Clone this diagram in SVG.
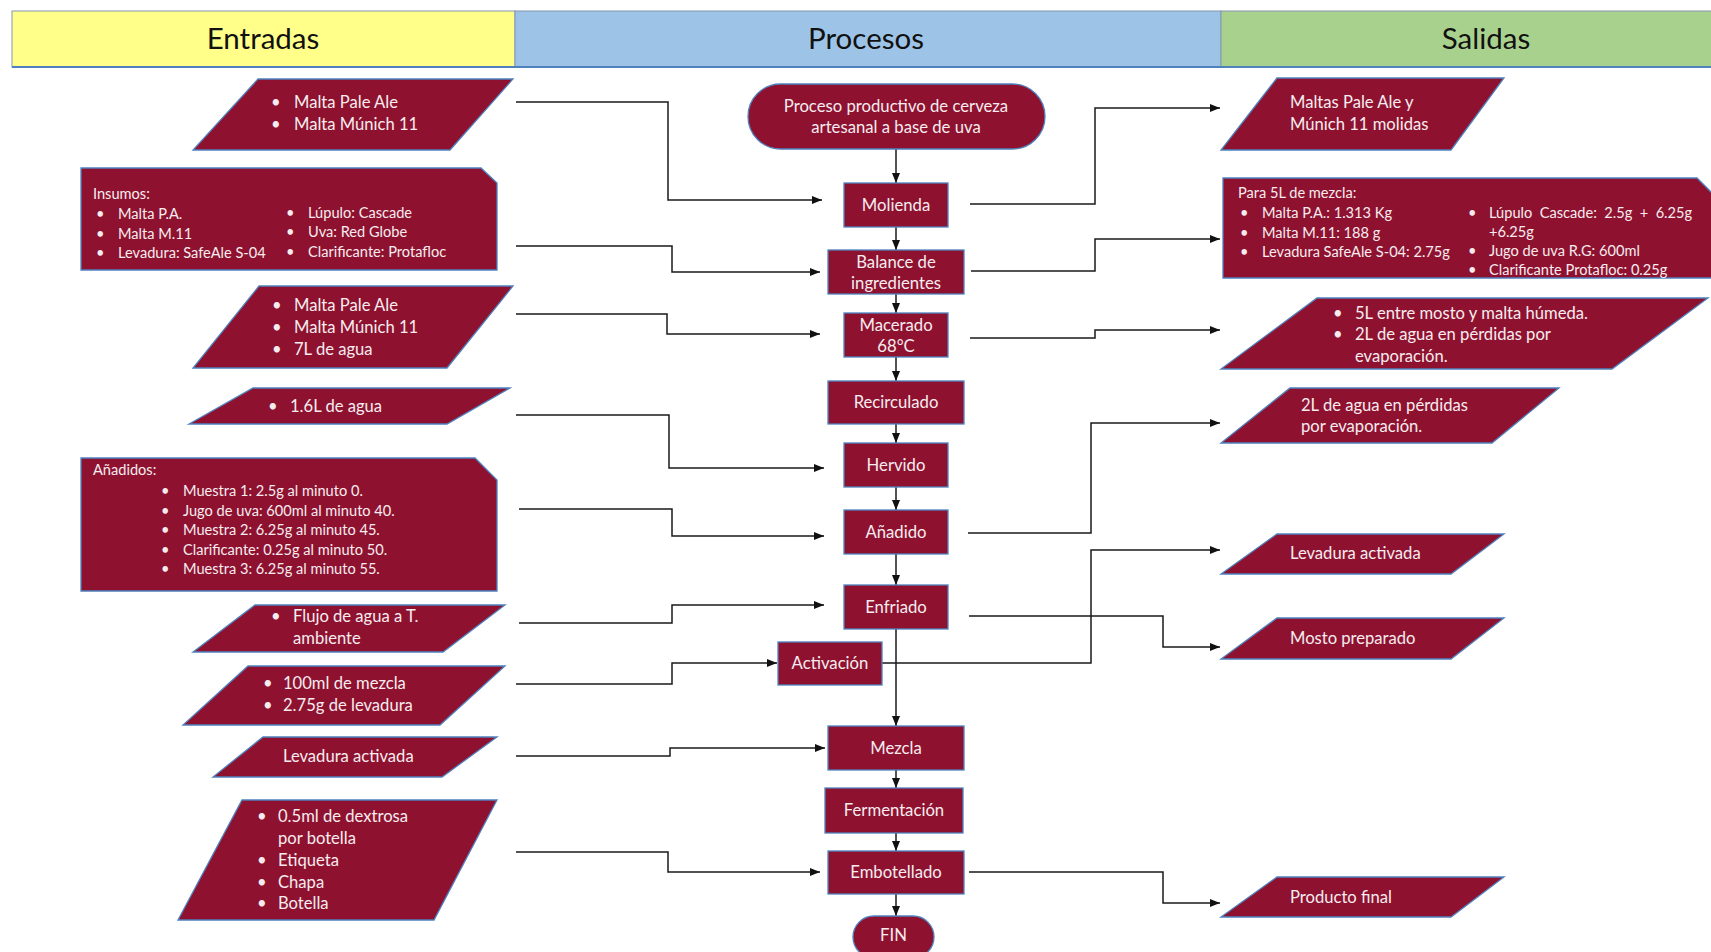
<svg xmlns="http://www.w3.org/2000/svg" width="1711" height="952" viewBox="0 0 1711 952">
  <defs>
    <marker id="arrow" viewBox="0 0 10 8" refX="10" refY="4" markerWidth="10" markerHeight="8" markerUnits="userSpaceOnUse" orient="auto">
      <path d="M0,0 L10,4 L0,8 z" fill="#111"/>
    </marker>
    <style>
      .hdr { stroke:#8497B0; stroke-width:1; }
      .htxt { font-family: Lato, "Open Sans", sans-serif; font-size:29.5px; fill:#111; text-anchor:middle; dominant-baseline:central; }
      .box { fill:#8E1230; stroke:#4F81BD; stroke-width:1.3; }
      .t { font-family: Lato, "Open Sans", sans-serif; fill:#F6ECEF; dominant-baseline:central; transform: translateY(-0.5px); }
      .m { font-size:16.7px; text-anchor:middle; }
      .l { font-size:16.6px; }
      .s { font-size:14.6px; }
      .pre { white-space:pre; }
      .c { fill:none; stroke:#1a1a1a; stroke-width:1.5; marker-end:url(#arrow); }
    </style>
  </defs>

  <rect width="1711" height="952" fill="#FFFFFF"/>

  <!-- Column headers -->
  <g id="header">
    <rect x="12" y="11" width="503" height="56" fill="#FFFF8A" class="hdr"/>
    <rect x="515" y="11" width="706" height="56" fill="#9DC3E6" class="hdr"/>
    <rect x="1221" y="11" width="495" height="56" fill="#A9D18E" class="hdr"/>
    <line x1="12" y1="67" x2="1711" y2="67" stroke="#4F81BD" stroke-width="2"/>
    <text class="htxt" x="263" y="37">Entradas</text>
    <text class="htxt" x="866" y="37">Procesos</text>
    <text class="htxt" x="1486" y="37">Salidas</text>
  </g>

  <!-- Connectors -->
  <g id="connectors">
    <!-- main flow -->
    <path class="c" d="M896 149 V183"/>
    <path class="c" d="M896 227 V250"/>
    <path class="c" d="M896 294 V313"/>
    <path class="c" d="M896 357 V381"/>
    <path class="c" d="M896 424 V443"/>
    <path class="c" d="M896 487 V510"/>
    <path class="c" d="M896 554 V585"/>
    <path class="c" d="M896 629 V726"/>
    <path class="c" d="M896 770 V788"/>
    <path class="c" d="M896 833 V851"/>
    <path class="c" d="M896 894 V916"/>
    <!-- inputs -->
    <path class="c" d="M516 102 H668 V200 H822"/>
    <path class="c" d="M516 246 H672 V272 H820"/>
    <path class="c" d="M516 314 H667 V334 H820"/>
    <path class="c" d="M516 415 H669 V468 H824"/>
    <path class="c" d="M519 509 H672 V536 H824"/>
    <path class="c" d="M519 623 H672 V605 H824"/>
    <path class="c" d="M516 684 H672 V663 H777"/>
    <path class="c" d="M516 756 H670 V748 H825"/>
    <path class="c" d="M516 852 H668 V872 H820"/>
    <!-- outputs -->
    <path class="c" d="M970 204 H1095 V108 H1220"/>
    <path class="c" d="M971 271 H1095 V239 H1220"/>
    <path class="c" d="M970 338 H1095 V330 H1220"/>
    <path class="c" d="M968 533 H1091 V423 H1220"/>
    <path class="c" d="M882 663 H1091 V550 H1220"/>
    <path class="c" d="M969 616 H1163 V647 H1220"/>
    <path class="c" d="M969 872 H1163 V903 H1220"/>
  </g>

  <!-- Inputs -->
  <g id="in-maltas">
    <polygon class="box" points="258,79 513,79 450,150 193,150"/>
    <text class="t l" x="271" y="102">•</text><text class="t l" x="294" y="102">Malta Pale Ale</text>
    <text class="t l" x="271" y="124">•</text><text class="t l" x="294" y="124">Malta Múnich 11</text>
  </g>
  <g id="in-insumos">
    <polygon class="box" points="81,168 481,168 497,183 497,270 81,270"/>
    <text class="t s" x="93" y="194">Insumos:</text>
    <text class="t s" x="96" y="214">•</text><text class="t s" x="118" y="214">Malta P.A.</text>
    <text class="t s" x="96" y="234">•</text><text class="t s" x="118" y="234">Malta M.11</text>
    <text class="t s" x="96" y="253">•</text><text class="t s" x="118" y="253">Levadura: SafeAle S-04</text>
    <text class="t s" x="286" y="213">•</text><text class="t s" x="308" y="213">Lúpulo: Cascade</text>
    <text class="t s" x="286" y="232">•</text><text class="t s" x="308" y="232">Uva: Red Globe</text>
    <text class="t s" x="286" y="252">•</text><text class="t s" x="308" y="252">Clarificante: Protafloc</text>
  </g>
  <g id="in-macerado">
    <polygon class="box" points="259,286 513,286 447,368 193,368"/>
    <text class="t l" x="272" y="305">•</text><text class="t l" x="294" y="305">Malta Pale Ale</text>
    <text class="t l" x="272" y="327">•</text><text class="t l" x="294" y="327">Malta Múnich 11</text>
    <text class="t l" x="272" y="349">•</text><text class="t l" x="294" y="349">7L de agua</text>
  </g>
  <g id="in-agua">
    <polygon class="box" points="253,388 510,388 447,424 189,424"/>
    <text class="t l" x="268" y="406">•</text><text class="t l" x="290" y="406">1.6L de agua</text>
  </g>
  <g id="in-anadidos">
    <polygon class="box" points="81,458 475,458 497,480 497,591 81,591"/>
    <text class="t s" x="93" y="470">Añadidos:</text>
    <text class="t s" x="161" y="491">•</text><text class="t s" x="183" y="491">Muestra 1: 2.5g al minuto 0.</text>
    <text class="t s" x="161" y="511">•</text><text class="t s" x="183" y="511">Jugo de uva: 600ml al minuto 40.</text>
    <text class="t s" x="161" y="530">•</text><text class="t s" x="183" y="530">Muestra 2: 6.25g al minuto 45.</text>
    <text class="t s" x="161" y="550">•</text><text class="t s" x="183" y="550">Clarificante: 0.25g al minuto 50.</text>
    <text class="t s" x="161" y="569">•</text><text class="t s" x="183" y="569">Muestra 3: 6.25g al minuto 55.</text>
  </g>
  <g id="in-flujo">
    <polygon class="box" points="255,605 505,605 443,652 193,652"/>
    <text class="t l" x="271" y="616">•</text><text class="t l" x="293" y="616">Flujo de agua a T.</text>
    <text class="t l" x="293" y="638">ambiente</text>
  </g>
  <g id="in-activacion">
    <polygon class="box" points="248,666 505,666 440,725 183,725"/>
    <text class="t l" x="263" y="683">•</text><text class="t l" x="283" y="683">100ml de mezcla</text>
    <text class="t l" x="263" y="705">•</text><text class="t l" x="283" y="705">2.75g de levadura</text>
  </g>
  <g id="in-levadura">
    <polygon class="box" points="263,737 497,737 442,777 213,777"/>
    <text class="t l" x="283" y="756">Levadura activada</text>
  </g>
  <g id="in-embotellado">
    <polygon class="box" points="242,800 497,800 434,920 178,920"/>
    <text class="t l" x="257" y="816">•</text><text class="t l" x="278" y="816">0.5ml de dextrosa</text>
    <text class="t l" x="278" y="838">por botella</text>
    <text class="t l" x="257" y="860">•</text><text class="t l" x="278" y="860">Etiqueta</text>
    <text class="t l" x="257" y="882">•</text><text class="t l" x="278" y="882">Chapa</text>
    <text class="t l" x="257" y="903">•</text><text class="t l" x="278" y="903">Botella</text>
  </g>

  <!-- Process steps -->
  <g id="p-inicio">
    <rect class="box" x="748" y="84" width="297" height="65" rx="32.5"/>
    <text class="t m" x="896" y="106">Proceso productivo de cerveza</text>
    <text class="t m" x="896" y="127">artesanal a base de uva</text>
  </g>
  <g id="p-molienda">
    <rect class="box" x="844" y="183" width="104" height="44"/>
    <text class="t m" x="896" y="205">Molienda</text>
  </g>
  <g id="p-balance">
    <rect class="box" x="828" y="250" width="136" height="44"/>
    <text class="t m" x="896" y="262">Balance de</text>
    <text class="t m" x="896" y="283">ingredientes</text>
  </g>
  <g id="p-macerado">
    <rect class="box" x="844" y="313" width="104" height="44"/>
    <text class="t m" x="896" y="325">Macerado</text>
    <text class="t m" x="896" y="346">68°C</text>
  </g>
  <g id="p-recirculado">
    <rect class="box" x="828" y="381" width="136" height="43"/>
    <text class="t m" x="896" y="402">Recirculado</text>
  </g>
  <g id="p-hervido">
    <rect class="box" x="844" y="443" width="104" height="44"/>
    <text class="t m" x="896" y="465">Hervido</text>
  </g>
  <g id="p-anadido">
    <rect class="box" x="844" y="510" width="104" height="44"/>
    <text class="t m" x="896" y="532">Añadido</text>
  </g>
  <g id="p-enfriado">
    <rect class="box" x="844" y="585" width="104" height="44"/>
    <text class="t m" x="896" y="607">Enfriado</text>
  </g>
  <g id="p-activacion">
    <rect class="box" x="778" y="642" width="104" height="43"/>
    <text class="t m" x="830" y="663">Activación</text>
  </g>
  <g id="p-mezcla">
    <rect class="box" x="828" y="726" width="136" height="44"/>
    <text class="t m" x="896" y="748">Mezcla</text>
  </g>
  <g id="p-fermentacion">
    <rect class="box" x="825" y="788" width="138" height="45"/>
    <text class="t m" x="894" y="810">Fermentación</text>
  </g>
  <g id="p-embotellado">
    <rect class="box" x="828" y="851" width="136" height="43"/>
    <text class="t m" x="896" y="872">Embotellado</text>
  </g>
  <g id="p-fin">
    <rect class="box" x="853" y="916" width="81" height="42" rx="21"/>
    <text class="t m" x="893.5" y="935">FIN</text>
  </g>

  <!-- Outputs -->
  <g id="out-molidas">
    <polygon class="box" points="1277,78 1504,78 1451,150 1221,150"/>
    <text class="t l" x="1290" y="102">Maltas Pale Ale y</text>
    <text class="t l" x="1290" y="124">Múnich 11 molidas</text>
  </g>
  <g id="out-mezcla">
    <polygon class="box" points="1223,178 1697,178 1715,196 1715,278 1223,278"/>
    <text class="t s" x="1238" y="193">Para 5L de mezcla:</text>
    <text class="t s" x="1240" y="213">•</text><text class="t s" x="1262" y="213">Malta P.A.: 1.313 Kg</text>
    <text class="t s" x="1240" y="233">•</text><text class="t s" x="1262" y="233">Malta M.11: 188 g</text>
    <text class="t s" x="1240" y="252">•</text><text class="t s" x="1262" y="252">Levadura SafeAle S-04: 2.75g</text>
    <text class="t s" x="1468" y="213">•</text><text class="t s pre" x="1489" y="213">Lúpulo  Cascade:  2.5g  +  6.25g</text>
    <text class="t s" x="1489" y="232">+6.25g</text>
    <text class="t s" x="1468" y="251">•</text><text class="t s" x="1489" y="251">Jugo de uva R.G: 600ml</text>
    <text class="t s" x="1468" y="270">•</text><text class="t s" x="1489" y="270">Clarificante Protafloc: 0.25g</text>
  </g>
  <g id="out-macerado">
    <polygon class="box" points="1317,298 1708,298 1612,369 1221,369"/>
    <text class="t l" x="1333" y="313">•</text><text class="t l" x="1355" y="313">5L entre mosto y malta húmeda.</text>
    <text class="t l" x="1333" y="334">•</text><text class="t l" x="1355" y="334">2L de agua en pérdidas por</text>
    <text class="t l" x="1355" y="356">evaporación.</text>
  </g>
  <g id="out-evaporacion">
    <polygon class="box" points="1290,388 1559,388 1492,443 1221,443"/>
    <text class="t l" x="1301" y="405">2L de agua en pérdidas</text>
    <text class="t l" x="1301" y="426">por evaporación.</text>
  </g>
  <g id="out-levadura">
    <polygon class="box" points="1277,534 1504,534 1451,574 1221,574"/>
    <text class="t l" x="1290" y="553">Levadura activada</text>
  </g>
  <g id="out-mosto">
    <polygon class="box" points="1277,618 1504,618 1451,659 1221,659"/>
    <text class="t l" x="1290" y="638">Mosto preparado</text>
  </g>
  <g id="out-producto">
    <polygon class="box" points="1277,877 1504,877 1451,917 1221,917"/>
    <text class="t l" x="1290" y="897">Producto final</text>
  </g>
</svg>
